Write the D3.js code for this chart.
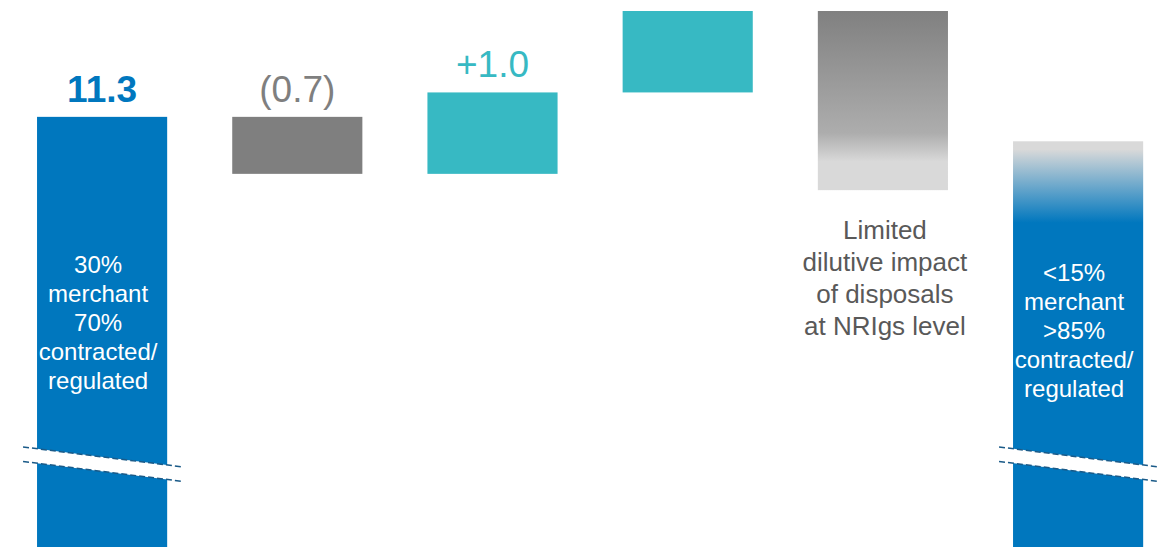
<!DOCTYPE html>
<html>
<head>
<meta charset="utf-8">
<script src="https://cdn.jsdelivr.net/npm/d3@7"></script>
<style>
  html, body { margin: 0; padding: 0; background: #fff; }
  svg { display: block; font-family: "Liberation Sans", Arial, sans-serif; }
</style>
</head>
<body>
<div id="chart"></div>
<script>
// ---- data ----
const categories = ["Start", "Disposals", "Growth", "Other", "Dilution", "End"];
const barFrom = [0, 11.3, 10.6, 11.6, 12.6, 0];
const barTo   = [11.3, 10.6, 11.6, 12.6, 10.4, 11.0];
const valueLabels = ["11.3", "(0.7)", "+1.0", "", "", ""];
const barKinds = ["total", "neg", "pos", "pos", "fade", "totalFade"];
const innerText = [
  ["30%", "merchant", "70%", "contracted/", "regulated"],
  [], [], [],
  [],
  ["<15%", "merchant", ">85%", "contracted/", "regulated"]
];
const noteText = ["", "", "", "", "Limited|dilutive impact|of disposals|at NRIgs level", ""];

// ---- layout ----
const W = 1173, H = 547;
const BLUE = "#0077be", GREY = "#7f7f7f", TEAL = "#37b9c3", LIGHT = "#d9d9d9";

const svg = d3.select("#chart").append("svg").attr("width", W).attr("height", H);
const defs = svg.append("defs");

const x = d3.scaleBand().domain(categories).range([4.5, 1175.7])
  .paddingInner(1 / 3).paddingOuter(1 / 6);
const y = d3.scaleLinear().domain([0, 12.6]).range([1037, 11]);

// gradients (stops positioned by data scale)
const gFade = defs.append("linearGradient").attr("id", "gFade")
  .attr("gradientUnits", "userSpaceOnUse").attr("x1", 0).attr("x2", 0)
  .attr("y1", y(12.6)).attr("y2", y(10.4));
[[12.6, "#808080"], [11.1, "#adadad"], [10.75, LIGHT], [10.4, LIGHT]].forEach(([v, c]) => {
  gFade.append("stop").attr("offset", (y(v) - y(12.6)) / (y(10.4) - y(12.6))).attr("stop-color", c);
});
const gEnd = defs.append("linearGradient").attr("id", "gEnd")
  .attr("gradientUnits", "userSpaceOnUse").attr("x1", 0).attr("x2", 0)
  .attr("y1", y(11.0)).attr("y2", y(10.0));
[[11.0, LIGHT], [10.9, LIGHT], [10.0, BLUE]].forEach(([v, c]) => {
  gEnd.append("stop").attr("offset", (y(v) - y(11.0)) / (y(10.0) - y(11.0))).attr("stop-color", c);
});

const fillFor = { total: BLUE, neg: GREY, pos: TEAL, fade: "url(#gFade)", totalFade: "url(#gEnd)" };
const labelColor = { total: BLUE, neg: GREY, pos: TEAL };

const data = categories.map((c, i) => ({
  cat: c, from: barFrom[i], to: barTo[i], label: valueLabels[i], kind: barKinds[i],
  inner: innerText[i], note: noteText[i]
}));

// bars
svg.selectAll("rect.bar").data(data).join("rect")
  .attr("class", "bar")
  .attr("x", d => x(d.cat))
  .attr("width", x.bandwidth())
  .attr("y", d => y(Math.max(d.from, d.to)))
  .attr("height", d => Math.abs(y(d.from) - y(d.to)))
  .attr("fill", d => fillFor[d.kind]);

// value labels
svg.selectAll("text.val").data(data.filter(d => d.label)).join("text")
  .attr("class", "val")
  .attr("x", d => x(d.cat) + x.bandwidth() / 2)
  .attr("y", d => y(Math.max(d.from, d.to)) - 15)
  .attr("text-anchor", "middle")
  .attr("font-size", 37)
  .attr("font-weight", d => d.kind === "total" ? "bold" : "normal")
  .attr("fill", d => labelColor[d.kind])
  .text(d => d.label);

// inner text in total bars
const innerTop = { Start: 273, End: 281 };
data.filter(d => d.inner.length).forEach(d => {
  const t = svg.append("text")
    .attr("text-anchor", "middle")
    .attr("font-size", 24)
    .attr("fill", "#fff");
  d.inner.forEach((line, k) => {
    t.append("tspan")
      .attr("x", x(d.cat) + x.bandwidth() / 2 - 4)
      .attr("y", innerTop[d.cat] + k * 29)
      .text(line);
  });
});

// note under the faded bar
data.filter(d => d.note).forEach(d => {
  const t = svg.append("text")
    .attr("text-anchor", "middle")
    .attr("font-size", 26)
    .attr("fill", "#595959");
  d.note.split("|").forEach((line, k) => {
    t.append("tspan")
      .attr("x", x(d.cat) + x.bandwidth() / 2 + 2)
      .attr("y", y(d.to) + 49 + k * 32)
      .text(line);
  });
});

// axis-break marks on the total bars
const breakY1 = 447, breakDrop = 20, breakGap = 14.5;
data.filter(d => d.kind === "total" || d.kind === "totalFade").forEach(d => {
  const x0 = x(d.cat) - 14, x1 = x(d.cat) + x.bandwidth() + 16;
  svg.append("polygon")
    .attr("points", [[x0, breakY1], [x1, breakY1 + breakDrop], [x1, breakY1 + breakDrop + breakGap], [x0, breakY1 + breakGap]].map(p => p.join(",")).join(" "))
    .attr("fill", "#fff");
  [0, breakGap].forEach(off => {
    svg.append("line")
      .attr("x1", x0).attr("y1", breakY1 + off)
      .attr("x2", x1).attr("y2", breakY1 + breakDrop + off)
      .attr("stroke", "#1a5a88").attr("stroke-width", 1.5)
      .attr("stroke-dasharray", "6,3");
  });
});
</script>
</body>
</html>
